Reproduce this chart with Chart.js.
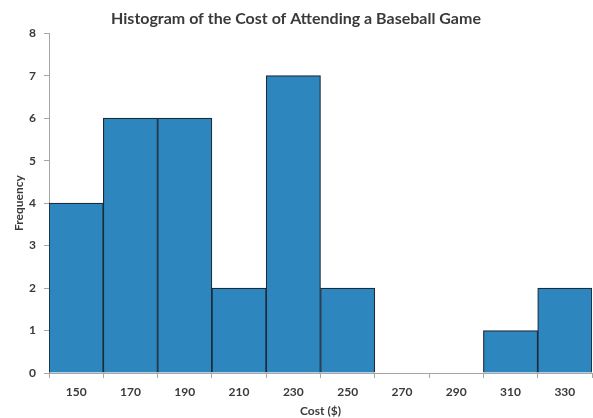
<!DOCTYPE html>
<html>
<head>
<meta charset="utf-8">
<script src="https://cdn.jsdelivr.net/npm/chart.js@4/dist/chart.umd.min.js"></script>
<style>
  html, body { margin: 0; padding: 0; background: #ffffff; }
  #wrap { width: 593px; height: 418px; }
</style>
</head>
<body>
<div id="wrap"><canvas id="c" width="593" height="418"></canvas></div>
<script>
// Cost bins (bin centres, $) and how many games fell in each
const costBins = ['150', '170', '190', '210', '230', '250', '270', '290', '310', '330'];
const frequencies = [4, 6, 6, 2, 7, 2, 0, 0, 1, 2];
const yTicks = [0, 1, 2, 3, 4, 5, 6, 7, 8];

const FONT = 'Lato, "Open Sans", "DejaVu Sans", sans-serif';
const TEXT = '#3a3a3a';
const AXIS = '#a6a6a6';

new Chart(document.getElementById('c'), {
  type: 'bar',
  data: {
    labels: costBins,
    datasets: [{
      label: 'Frequency',
      data: frequencies,
      backgroundColor: '#2e86bf',
      borderColor: '#1c2b3a',
      borderWidth: 1.2,
      barPercentage: 1,
      categoryPercentage: 1
    }]
  },
  options: {
    responsive: false,
    animation: false,
    layout: { padding: { left: 0, right: 1, top: 0, bottom: 0 } },
    plugins: {
      legend: { display: false },
      tooltip: { enabled: false },
      title: {
        display: true,
        text: 'Histogram of the Cost of Attending a Baseball Game',
        color: TEXT,
        font: { family: FONT, size: 16, weight: 'bold' },
        padding: { top: 9, bottom: 5 }
      }
    },
    scales: {
      x: {
        type: 'category',
        offset: true,
        grid: {
          offset: true,
          display: true,
          drawOnChartArea: false,
          drawTicks: true,
          tickLength: 5,
          color: AXIS,
          lineWidth: 1
        },
        border: { display: true, color: AXIS, width: 1 },
        ticks: {
          color: TEXT,
          font: { family: FONT, size: 12, weight: 'bold' },
          padding: 7,
          maxRotation: 0
        },
        title: {
          display: true,
          text: 'Cost ($)',
          color: TEXT,
          font: { family: FONT, size: 12, weight: 'bold' },
          padding: { top: 1.5, bottom: 0 }
        },
        afterFit: (scale) => { scale.height = 45; }
      },
      y: {
        min: 0,
        max: 8,
        afterBuildTicks: (scale) => { scale.ticks = yTicks.map(v => ({ value: v })); },
        grid: {
          display: true,
          drawOnChartArea: false,
          drawTicks: true,
          tickLength: 5,
          color: AXIS,
          lineWidth: 1
        },
        border: { display: true, color: AXIS, width: 1 },
        ticks: {
          color: TEXT,
          font: { family: FONT, size: 12, weight: 'bold' },
          padding: 8
        },
        title: {
          display: true,
          text: 'Frequency',
          color: TEXT,
          font: { family: FONT, size: 12, weight: 'bold' },
          padding: { top: 12, bottom: 0 }
        },
        afterFit: (scale) => { scale.width = 49; }
      }
    }
  }
});
</script>
</body>
</html>
